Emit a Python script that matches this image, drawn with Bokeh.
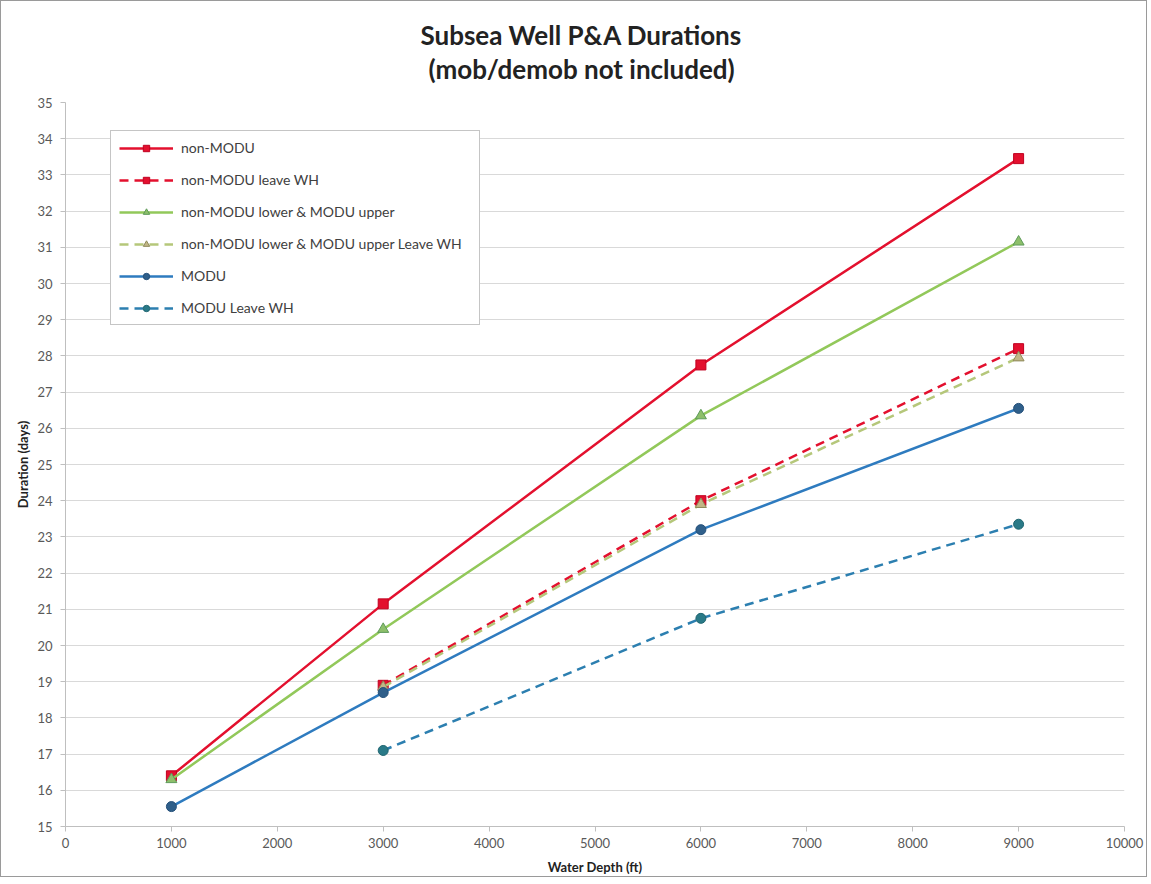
from bokeh.plotting import figure
from bokeh.models import Title, Legend, LegendItem, FixedTicker, Range1d
from bokeh.embed import file_html
from bokeh.resources import INLINE

# ---- data ----
depth_all = [1000, 3000, 6000, 9000]
depth_wh = [3000, 6000, 9000]
non_modu = [16.4, 21.15, 27.75, 33.45]
non_modu_leave_wh = [18.9, 24.0, 28.2]
hybrid = [16.3, 20.45, 26.35, 31.15]
hybrid_leave_wh = [18.85, 23.9, 27.95]
modu = [15.55, 18.7, 23.2, 26.55]
modu_leave_wh = [17.1, 20.75, 23.35]

x_ticks = list(range(0, 10001, 1000))
y_ticks = list(range(15, 36))

title_line1 = "Subsea Well P&A Durations"
title_line2 = "(mob/demob not included)"

FONT = "Lato"

p = figure(width=1147, height=877, output_backend="svg", toolbar_location=None,
           x_range=Range1d(0, 10000), y_range=Range1d(15, 35),
           min_border_left=64, min_border_right=24, min_border_top=101,
           min_border_bottom=52)
p.styles = {"border": "1px solid #9a9a9a"}
p.outline_line_color = None
p.background_fill_color = "white"
p.border_fill_color = "white"

# title: spacer panel nearest the frame, then line 2, then line 1
p.add_layout(Title(text=" ", text_font_size="10px", standoff=5), "above")
p.add_layout(Title(text=title_line2, align="left", offset=363, standoff=0,
                   text_font=FONT, text_font_size="26px", text_font_style="bold",
                   text_color="#222222"), "above")
p.add_layout(Title(text=title_line1, align="left", offset=355, standoff=0,
                   text_font=FONT, text_font_size="26px", text_font_style="bold",
                   text_color="#222222"), "above")

p.xgrid.grid_line_color = None
p.ygrid.grid_line_color = "#D9D9D9"
p.ygrid.grid_line_width = 1

p.xaxis.ticker = FixedTicker(ticks=x_ticks)
p.yaxis.ticker = FixedTicker(ticks=y_ticks)
for ax in (p.xaxis[0], p.yaxis[0]):
    ax.axis_line_color = "#BFBFBF"
    ax.major_tick_line_color = "#BFBFBF"
    ax.minor_tick_line_color = None
    ax.major_tick_in = 0
    ax.major_tick_out = 5
    ax.major_label_text_font = FONT
    ax.major_label_text_font_size = "13px"
    ax.major_label_text_color = "#595959"
    ax.axis_label_text_font = FONT
    ax.axis_label_text_font_size = "13px"
    ax.axis_label_text_font_style = "bold"
    ax.axis_label_text_color = "#222222"
p.xaxis.axis_label = "Water Depth (ft)"
p.yaxis.axis_label = "Duration (days)"
p.xaxis.major_label_standoff = 6
p.xaxis.axis_label_standoff = 8
p.yaxis.major_label_standoff = 8
p.yaxis.axis_label_standoff = 3

RED = "#E3102E"
GREEN = "#92C85A"
GREEN_MK = "#8DBF6A"
OLIVE = "#B5C77A"
OLIVE_MK = "#C2B686"
BLUE = "#2E7BBF"
BLUE_MK = "#2F5F8A"
TEAL = "#2C7FB0"
TEAL_MK = "#2A7A88"

DASH = "9 6"
items = []

l = p.line(depth_all, non_modu, line_color=RED, line_width=2.5)
m = p.scatter(depth_all, non_modu, marker="square", size=10, fill_color=RED, line_color="#C00020")
items.append(LegendItem(label="non-MODU", renderers=[l, m]))

l = p.line(depth_wh, non_modu_leave_wh, line_color=RED, line_width=2.5, line_dash=DASH)
m = p.scatter(depth_wh, non_modu_leave_wh, marker="square", size=10, fill_color=RED, line_color="#C00020")
items.append(LegendItem(label="non-MODU leave WH", renderers=[l, m]))

l = p.line(depth_all, hybrid, line_color=GREEN, line_width=2.5)
m = p.scatter(depth_all, hybrid, marker="triangle", size=11, fill_color=GREEN_MK, line_color="#5E9A5A")
items.append(LegendItem(label="non-MODU lower & MODU upper", renderers=[l, m]))

l = p.line(depth_wh, hybrid_leave_wh, line_color=OLIVE, line_width=2.5, line_dash=DASH)
m = p.scatter(depth_wh, hybrid_leave_wh, marker="triangle", size=11, fill_color=OLIVE_MK, line_color="#8E8A5A")
items.append(LegendItem(label="non-MODU lower & MODU upper Leave WH", renderers=[l, m]))

l = p.line(depth_all, modu, line_color=BLUE, line_width=2.5)
m = p.scatter(depth_all, modu, marker="circle", size=10, fill_color=BLUE_MK, line_color="#25507A")
items.append(LegendItem(label="MODU", renderers=[l, m]))

l = p.line(depth_wh, modu_leave_wh, line_color=TEAL, line_width=2.5, line_dash=DASH)
m = p.scatter(depth_wh, modu_leave_wh, marker="circle", size=10, fill_color=TEAL_MK, line_color="#1F6570")
items.append(LegendItem(label="MODU Leave WH", renderers=[l, m]))

legend = Legend(items=items, location=(45, 501), orientation="vertical",
                border_line_color="#8C8C8C", border_line_width=1,
                background_fill_color="white", background_fill_alpha=1,
                label_text_font=FONT, label_text_font_size="14px",
                label_text_color="#404040",
                glyph_width=54, glyph_height=16, label_height=16, label_width=290,
                spacing=15, padding=8, label_standoff=8, margin=0)
p.add_layout(legend, "center")

open("out.html", "w").write(file_html(p, INLINE))
